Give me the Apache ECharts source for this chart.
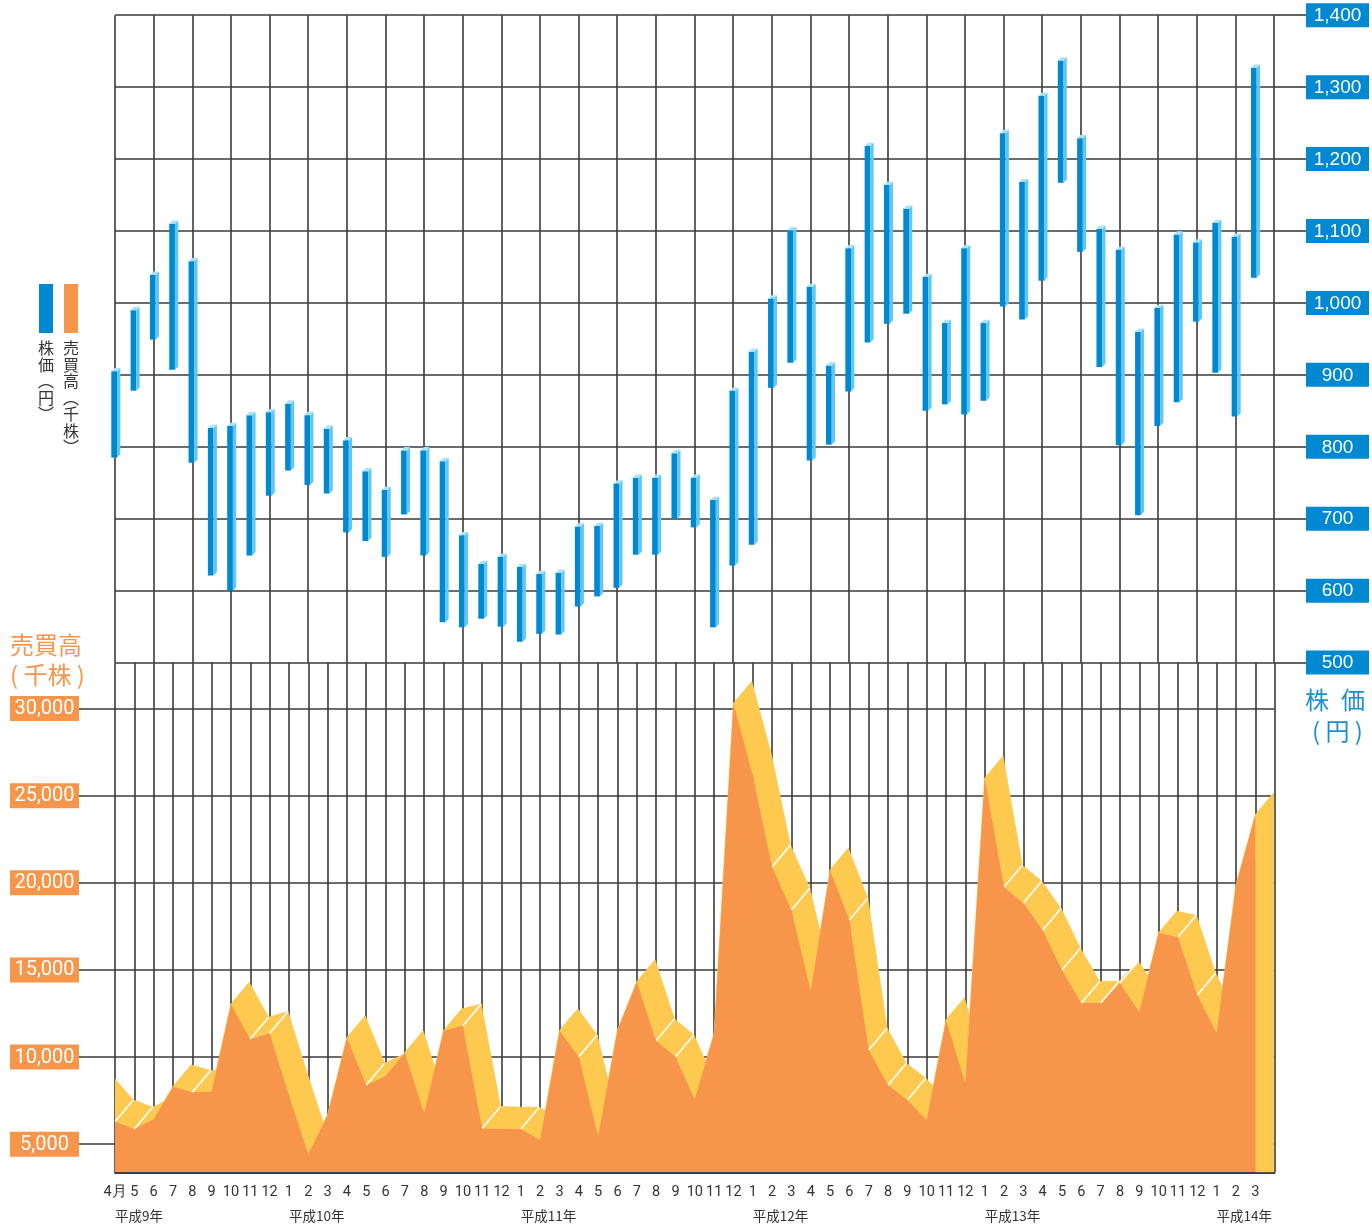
<!DOCTYPE html>
<html><head><meta charset="utf-8">
<script src="https://cdn.jsdelivr.net/npm/echarts@6/dist/echarts.min.js"></script>
<style>html,body{margin:0;padding:0;background:#fff}#c{width:1372px;height:1228px}</style>
</head><body><div id="c"></div>
<script>
// ---- data ----
const months = ['4月','5','6','7','8','9','10','11','12',
  '1','2','3','4','5','6','7','8','9','10','11','12',
  '1','2','3','4','5','6','7','8','9','10','11','12',
  '1','2','3','4','5','6','7','8','9','10','11','12',
  '1','2','3','4','5','6','7','8','9','10','11','12',
  '1','2','3',''];
const yearNames = ['平成9年','平成10年','平成11年','平成12年','平成13年','平成14年'];
const yearAt = [0, 9, 21, 33, 45, 57];
const priceHigh = [905,990,1039,1110,1058,826,829,844,848,860,844,825,
  809,766,740,795,795,780,677,637,647,633,623,625,
  689,690,749,757,757,791,757,726,878,932,1006,1101,
  1022,913,1076,1218,1164,1131,1036,972,1076,972,1236,1168,
  1288,1337,1229,1103,1074,960,993,1095,1084,1111,1092,1327];
const priceLow = [785,878,949,907,778,621,600,649,732,767,747,735,
  681,669,647,706,649,556,549,561,550,529,540,539,
  578,592,604,650,650,700,688,549,635,664,882,917,
  781,803,877,945,971,985,850,859,845,864,995,977,
  1031,1167,1071,911,802,705,829,862,974,903,842,1035];
const volPrev = 7560; // 平成9年3月
const volume = [6300,5880,6430,8300,7980,8020,13030,11040,11370,7810,4430,6680,
  11110,8400,8920,10250,6780,11510,11800,5920,5880,5880,5250,11510,
  10020,5480,11550,14320,10940,10020,7580,11370,30290,26180,20920,18440,
  13790,20730,17870,10410,8400,7540,6390,12130,8520,26000,19760,18840,
  17290,15000,13100,13100,14250,12590,17120,16890,13560,11380,19870,23890];
const volTicks = [5000,10000,15000,20000,25000,30000];

// ---- styles ----
const LINE = '#3a3a3a';
const BLUE = '#0088d1', BLUE_SIDE = '#5ec8f3', BLUE_CAP = '#a8e3f9';
const ORANGE = '#f7964a', YELLOW = '#fdc94f';
const COND = '"Liberation Sans Narrow","Arial Narrow",Roboto,sans-serif';
const CJK = '"Noto Sans CJK JP","Noto Sans CJK SC",sans-serif';

const chart = echarts.init(document.getElementById('c'), null, {renderer:'canvas'});

const gridL = 115, gridR = 1372 - 1274.6;

function bandRender(params, api) {
  const dx = 18.3, dy = 21.7;
  const all = [volPrev].concat(volume);
  const pts = all.map((v, j) => api.coord([j - 1, v]));
  const base = params.coordSys.y + params.coordSys.height;
  const sh = p => [p[0] + dx, p[1] - dy];
  const kids = [];
  for (let j = 0; j < pts.length - 1; j++) {
    const A = pts[j], B = pts[j + 1];
    kids.push({type:'polygon', shape:{points:[A, B, sh(B), sh(A)]},
      style:{fill:YELLOW, stroke:YELLOW, lineWidth:0.8}});
  }
  const L = pts[pts.length - 1];
  kids.push({type:'polygon', shape:{points:[L, sh(L), [L[0] + dx, base], [L[0], base]]},
    style:{fill:YELLOW, stroke:YELLOW, lineWidth:0.8}});
  const front = [[pts[0][0], base]].concat(pts).concat([[L[0], base]]);
  kids.push({type:'polygon', shape:{points:front}, style:{fill:ORANGE}});
  const vis = (A, B) => (B[1] - A[1]) * dx + dy * (B[0] - A[0]) > 0;
  for (let j = 1; j < pts.length - 1; j++) {
    const A = pts[j - 1], P = pts[j], B = pts[j + 1];
    if (!vis(A, P) || !vis(P, B)) continue;
    const a1 = Math.atan2(P[1] - A[1], P[0] - A[0]);
    const a2 = Math.atan2(B[1] - P[1], B[0] - P[0]);
    if (Math.abs(a1 - a2) < 0.06) continue;
    kids.push({type:'line', shape:{x1:P[0], y1:P[1], x2:P[0] + dx, y2:P[1] - dy},
      style:{stroke:'#ffffff', lineWidth:1.6}});
  }
  return {type:'group', children:kids};
}

function priceRender(params, api) {
  const i = api.value(0);
  const top = api.coord([i, api.value(1)]);
  const bot = api.coord([i, api.value(2)]);
  const c = top[0];
  const x0 = c - 3.7, x1 = c + 2, x2 = c + 5.3, d = 3.3;
  return {type:'group', children:[
    {type:'rect', shape:{x:x0, y:top[1], width:x1 - x0, height:bot[1] - top[1]}, style:{fill:BLUE}},
    {type:'polygon', shape:{points:[[x1, top[1]], [x2, top[1] - d], [x2, bot[1] - d], [x1, bot[1]]]}, style:{fill:BLUE_SIDE}},
    {type:'polygon', shape:{points:[[x0, top[1]], [x1, top[1]], [x2, top[1] - d], [x0 + d, top[1] - d]]}, style:{fill:BLUE_CAP}}
  ]};
}

const option = {
  animation: false,
  backgroundColor: '#ffffff',
  grid: [
    {left: gridL, right: gridR, top: 15.2, height: 647.4},
    {left: gridL, right: gridR, top: 662.6, bottom: 1228 - 1172.3}
  ],
  xAxis: [
    {type:'category', gridIndex:0, data:months, boundaryGap:false,
     axisLine:{show:false}, axisTick:{show:false}, axisLabel:{show:false},
     splitLine:{show:true, lineStyle:{color:LINE, width:1.6}}},
    {type:'category', gridIndex:1, data:months, boundaryGap:false,
     axisLine:{show:true, lineStyle:{color:LINE, width:1.8}}, axisTick:{show:false},
     axisLabel:{interval:0, margin:13, color:'#333', fontSize:14.5, fontFamily:COND},
     splitLine:{show:true, lineStyle:{color:LINE, width:1.6}}},
    {type:'category', gridIndex:1, data:months, boundaryGap:false, position:'bottom', offset:26,
     axisLine:{show:false}, axisTick:{show:false}, splitLine:{show:false},
     axisLabel:{interval:0, margin:11, align:'left', color:'#333', fontSize:13.5, fontFamily:CJK,
       formatter:(v, idx) => { const k = yearAt.indexOf(idx); return k >= 0 ? yearNames[k] : ''; }}}
  ],
  yAxis: [
    {type:'value', gridIndex:0, position:'right', min:500, max:1400, interval:100,
     axisLine:{show:false},
     axisTick:{show:true, length:32, lineStyle:{color:LINE, width:1.6}},
     splitLine:{show:true, lineStyle:{color:LINE, width:1.6}},
     axisLabel:{margin:32, formatter:v => '{p|' + v.toLocaleString('en-US') + '}',
       rich:{p:{backgroundColor:BLUE, color:'#fff', width:57, align:'center', fontSize:19,
         fontFamily:'"Liberation Sans",Arial,sans-serif', padding:[3,3,2,3], lineHeight:20}}}},
    {type:'value', gridIndex:1, position:'left', min:3390, max:32640,
     axisLine:{show:false},
     axisTick:{show:true, length:36, customValues:volTicks, lineStyle:{color:LINE, width:1.6}},
     splitLine:{show:true, lineStyle:{color:LINE, width:1.6}},
     axisLabel:{margin:36, customValues:volTicks, formatter:v => '{b|' + v.toLocaleString('en-US') + '}',
       rich:{b:{backgroundColor:ORANGE, color:'#fff', width:63, align:'center', fontSize:20,
         fontFamily:COND, padding:[3,3,2,3], lineHeight:21}}}}
  ],
  series: [
    {type:'custom', name:'売買高', xAxisIndex:1, yAxisIndex:1, clip:true,
     data:[[0, volume[0]]], renderItem:bandRender, z:3},
    {type:'custom', name:'株価', xAxisIndex:0, yAxisIndex:0, clip:false,
     data:priceHigh.map((h, i) => [i, h, priceLow[i]]), renderItem:priceRender, z:4}
  ],
  graphic: [
    {type:'rect', left:39, top:284, shape:{width:14, height:49}, style:{fill:BLUE}},
    {type:'rect', left:64, top:284, shape:{width:14, height:49}, style:{fill:ORANGE}},
    {type:'text', left:38, top:340, style:{text:'株\n価\n︵\n円\n︶', font:'16px ' + CJK, fill:'#333', lineHeight:16.5}},
    {type:'text', left:63, top:340, style:{text:'売\n買\n高\n︵\n千\n株\n︶', font:'16px ' + CJK, fill:'#333', lineHeight:16.5}},
    {type:'text', left:10, top:630, style:{text:'売買高\n( 千株 )', font:'24px ' + CJK, fill:ORANGE, lineHeight:30}},
    {type:'text', left:1305, top:688, style:{text:'株\u2002価', font:'24px ' + CJK, fill:'#1a8fd0'}},
    {type:'text', left:1312, top:719, style:{text:'( 円 )', font:'24px ' + CJK, fill:'#1a8fd0'}}
  ]
};
chart.setOption(option);
</script>
</body></html>
